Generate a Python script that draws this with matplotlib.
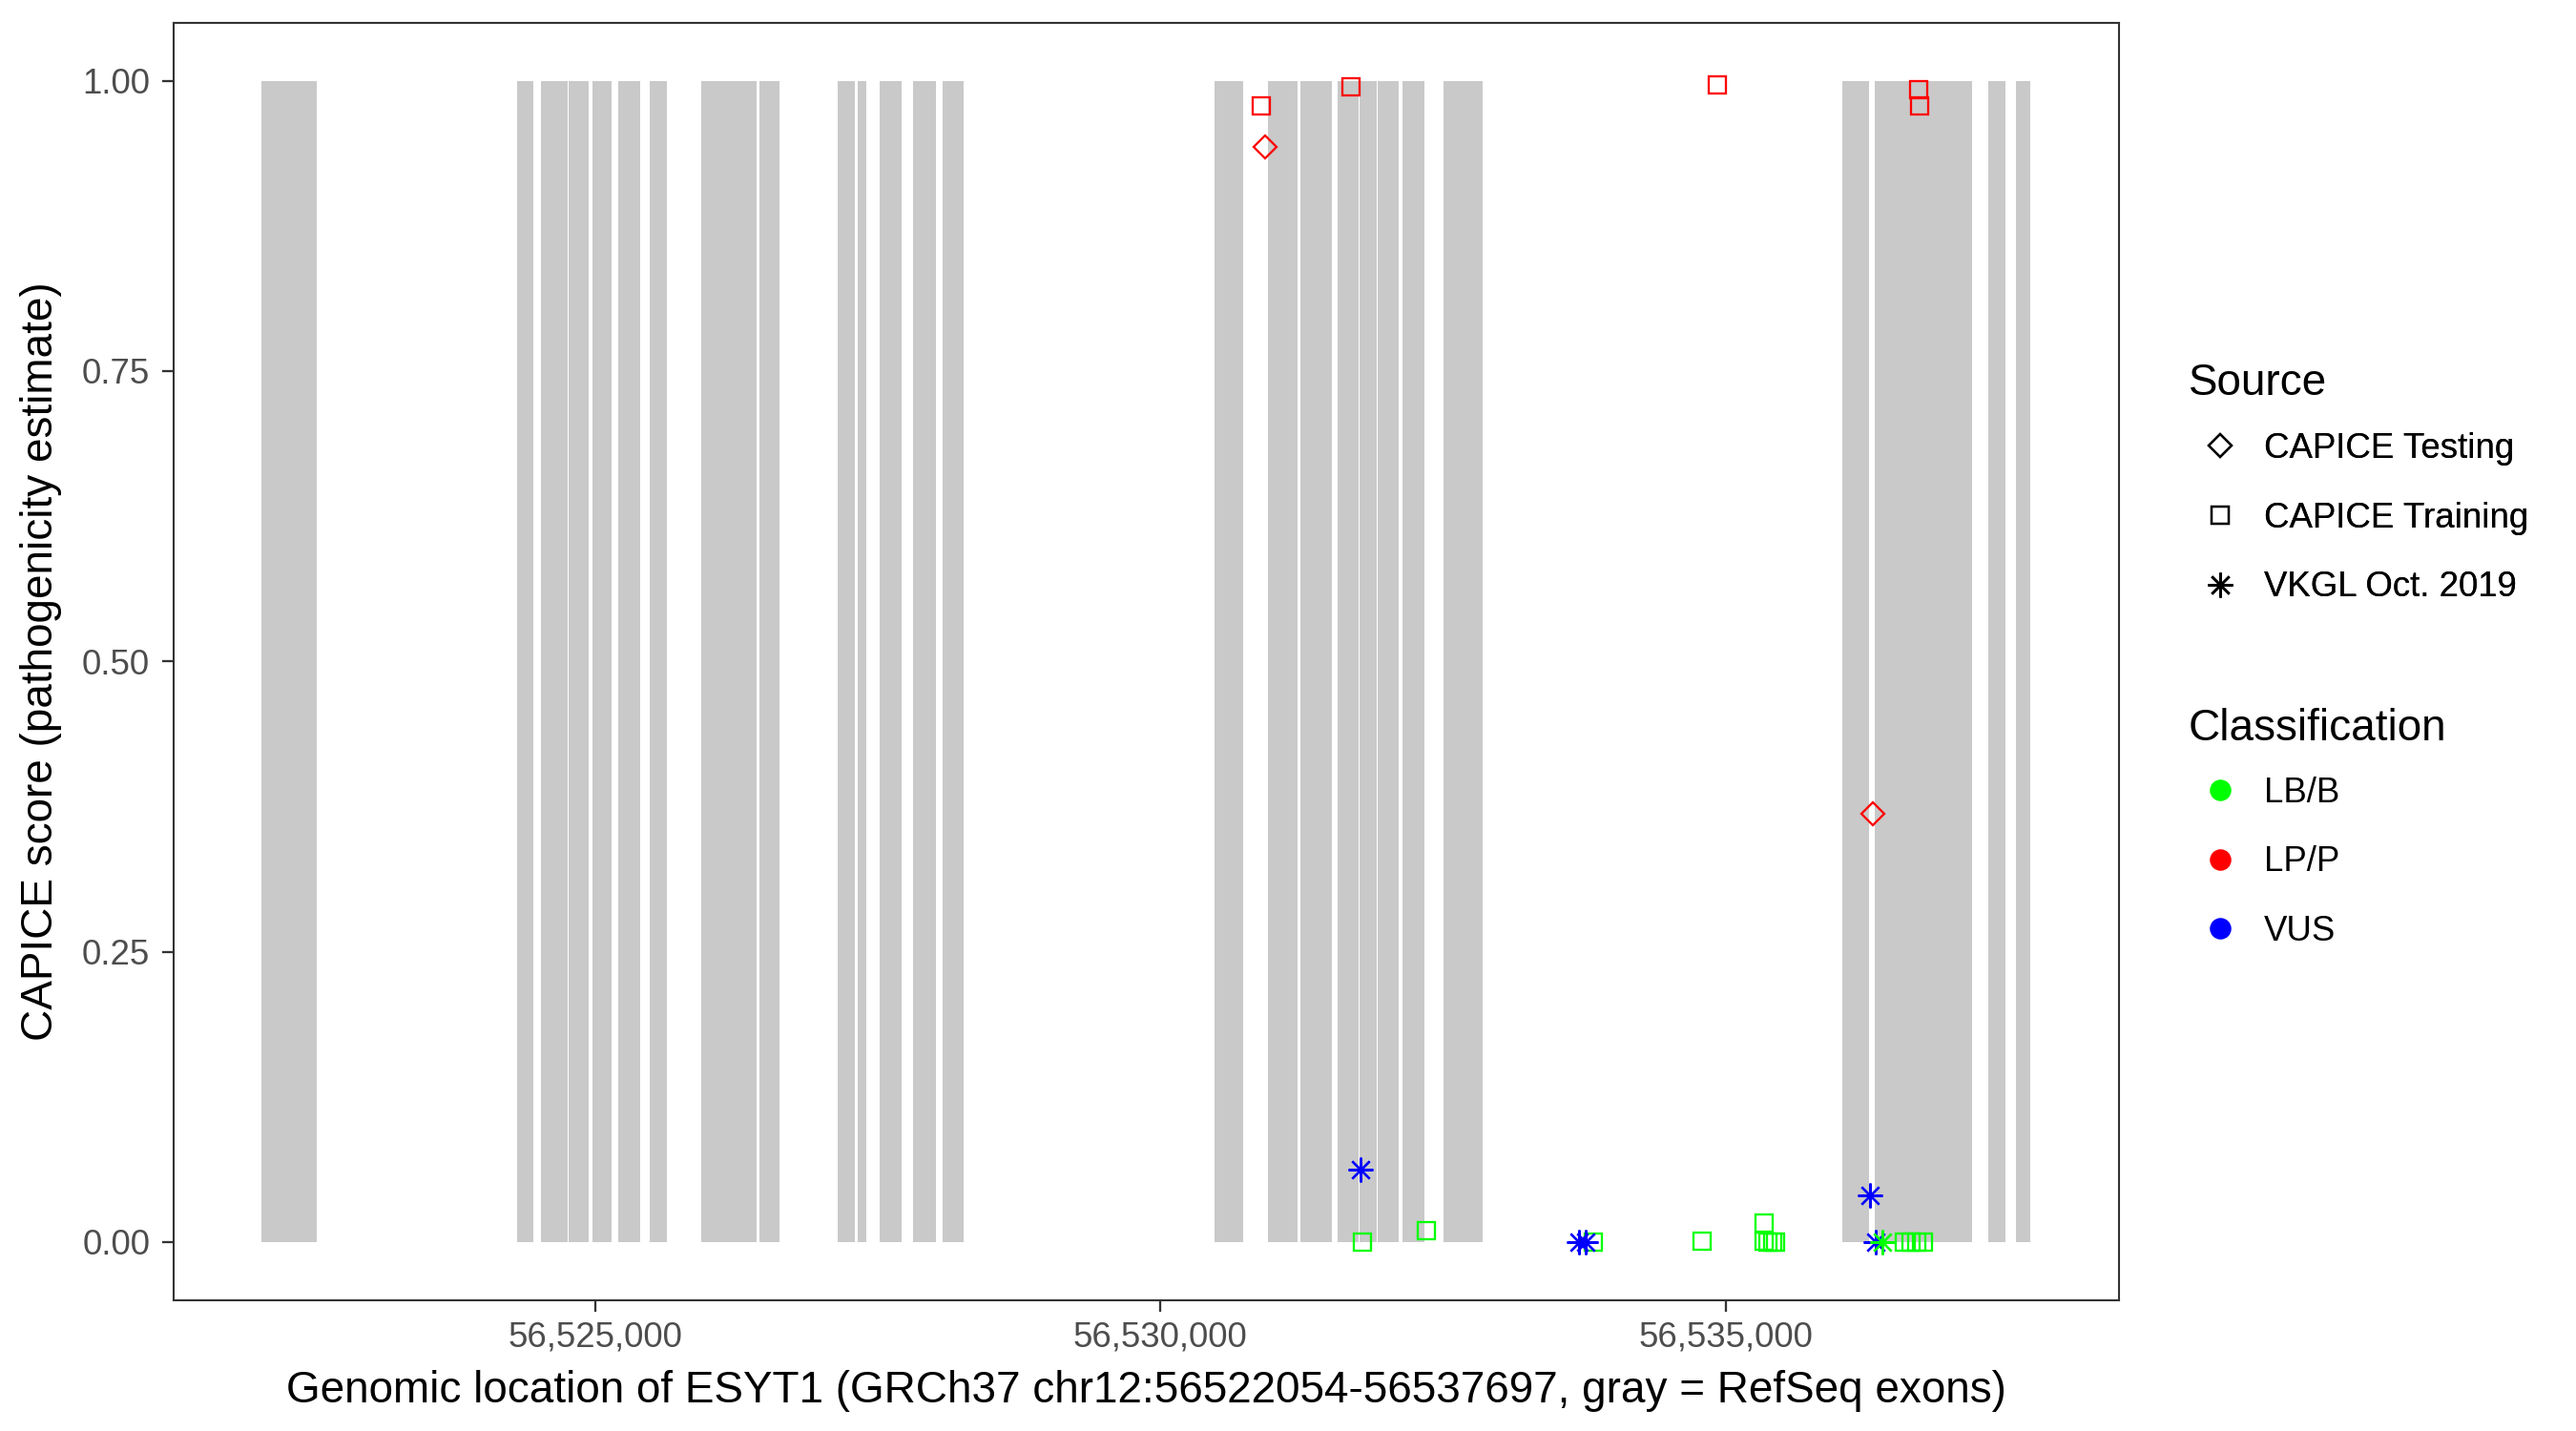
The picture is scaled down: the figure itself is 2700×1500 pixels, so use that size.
import matplotlib
matplotlib.use("Agg")
import matplotlib.pyplot as plt
from matplotlib.lines import Line2D
from matplotlib.ticker import FuncFormatter

plt.rcParams['font.family'] = ['Liberation Sans', 'DejaVu Sans']

# gene range and RefSeq exons (GRCh37 chr12)
gene_start = 56522054
gene_end = 56537697

exon_start = [56522052, 56524310, 56524524, 56524768, 56524977, 56525206, 56525485,
              56525942, 56526457, 56527147, 56527321, 56527517, 56527814, 56528074,
              56530481, 56530952, 56531238, 56531567, 56531766, 56531924, 56532143,
              56532504, 56536032, 56536317, 56537323, 56537568]
exon_end = [56522540, 56524454, 56524760, 56524946, 56525147, 56525400, 56525636,
            56526430, 56526631, 56527298, 56527400, 56527713, 56528014, 56528259,
            56530734, 56531212, 56531518, 56531755, 56531913, 56532109, 56532335,
            56532851, 56536266, 56537178, 56537473, 56537697]

# variants
var_pos = [56530896, 56531684, 56534929, 56536707, 56536718,
           56531790, 56532350, 56533833, 56534791, 56535342, 56535337, 56535376,
           56535413, 56535441, 56536580, 56536639, 56536690, 56536749,
           56530927, 56536304,
           56531773, 56533701, 56533763, 56536279, 56536325, 56536383]
var_score = [0.978, 0.995, 0.996, 0.992, 0.978,
             0.0, 0.0096, 0.0, 0.001, 0.0167, 0.001, 0.0,
             0.0, 0.0, 0.0, 0.0, 0.0, 0.0,
             0.943, 0.3685,
             0.062, 0.0, 0.0, 0.0405, 0.0, 0.0]
var_source = (["CAPICE Training"] * 18 + ["CAPICE Testing"] * 2 + ["VKGL Oct. 2019"] * 6)
var_class = (["LP/P"] * 5 + ["LB/B"] * 13 + ["LP/P"] * 2 + ["VUS"] * 5 + ["LB/B"])

sources = ["CAPICE Testing", "CAPICE Training", "VKGL Oct. 2019"]
classes = ["LB/B", "LP/P", "VUS"]
markers = {"CAPICE Testing": "D", "CAPICE Training": "s", "VKGL Oct. 2019": (8, 2, 0)}
msizes = {"CAPICE Testing": 4.2, "CAPICE Training": 4.2, "VKGL Oct. 2019": 6.2}
colors = {"LB/B": "#00FF00", "LP/P": "#FF0000", "VUS": "#0000FF"}

fig = plt.figure(figsize=(9, 5), dpi=300)
ax = fig.add_axes([0.0673, 0.0915, 0.7553, 0.8927])

# exons as gray rectangles
widths = [e - s for s, e in zip(exon_start, exon_end)]
ax.bar(exon_start, [1] * len(exon_start), width=widths, bottom=0, align='edge',
       color='#C9C9C9', linewidth=0, zorder=1)

# points
for x, y, src, cl in zip(var_pos, var_score, var_source, var_class):
    ax.plot(x, y, linestyle='none', marker=markers[src], markersize=msizes[src],
            markerfacecolor='none', markeredgecolor=colors[cl], markeredgewidth=0.55,
            zorder=3)

pad = (gene_end - gene_start) * 0.05
ax.set_xlim(gene_start - pad, gene_end + pad)
ax.set_ylim(-0.05, 1.05)
ax.set_xticks([56525000, 56530000, 56535000])
ax.xaxis.set_major_formatter(FuncFormatter(lambda v, p: f"{int(v):,}"))
ax.set_yticks([0, 0.25, 0.5, 0.75, 1.0])
ax.set_yticklabels(["0.00", "0.25", "0.50", "0.75", "1.00"])

ax.tick_params(axis='both', length=2.9, width=0.55, color='#333333',
               labelcolor='#4D4D4D', labelsize=8.8)
ax.tick_params(axis='x', pad=2.2)
ax.tick_params(axis='y', pad=3)
for sp in ax.spines.values():
    sp.set_color('#333333')
    sp.set_linewidth(0.5)

ax.set_xlabel("Genomic location of ESYT1 (GRCh37 chr12:56522054-56537697, gray = RefSeq exons)",
              fontsize=11, labelpad=4)
ax.set_ylabel("CAPICE score (pathogenicity estimate)", fontsize=11, labelpad=5)

# legends (titles drawn as separate text so row spacing can be set freely)
src_handles = [Line2D([], [], linestyle='none', marker=markers[s], markersize=msizes[s],
                      markerfacecolor='none', markeredgecolor='black', markeredgewidth=0.55)
               for s in sources]
cls_handles = [Line2D([], [], linestyle='none', marker='o', markersize=4.4,
                      markerfacecolor=colors[c], markeredgecolor=colors[c])
               for c in classes]

leg_kw = dict(loc='upper left', frameon=False, fontsize=8.8, handlelength=1.9,
              handletextpad=0.3, labelspacing=1.03, borderpad=0, borderaxespad=0)
leg1 = fig.legend(src_handles, sources, bbox_to_anchor=(0.849, 0.6981), **leg_kw)
leg2 = fig.legend(cls_handles, classes, bbox_to_anchor=(0.849, 0.4576), **leg_kw)
fig.add_artist(leg1)
fig.text(0.8495, 0.724, "Source", fontsize=11, ha='left', va='baseline')
fig.text(0.8495, 0.4827, "Classification", fontsize=11, ha='left', va='baseline')

fig.savefig("out.png", dpi=300)
